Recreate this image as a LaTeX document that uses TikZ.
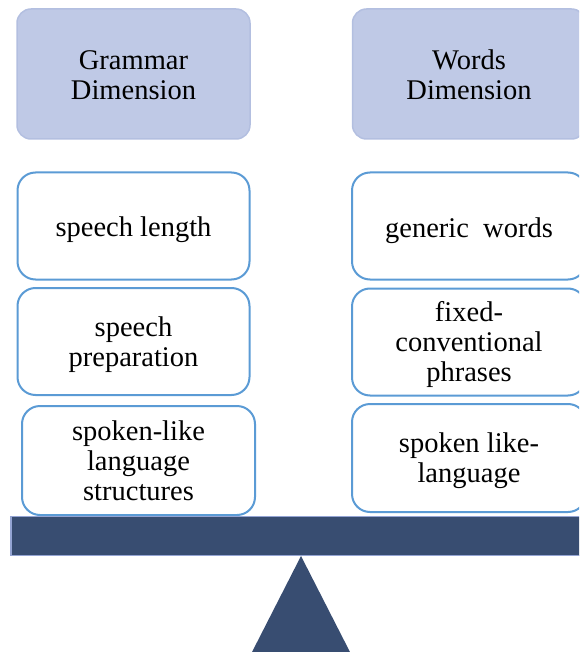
\documentclass[tikz,border=0pt]{standalone}
\usepackage{fontspec}
\usetikzlibrary{calc}
\setmainfont{Liberation Serif}
\definecolor{headfill}{HTML}{BFC9E6}
\definecolor{headline}{HTML}{B3BFE0}
\definecolor{itemline}{HTML}{5B9BD5}
\definecolor{beamfill}{HTML}{384D71}
\definecolor{beamline}{HTML}{94A4D3}
\tikzset{
  lbl/.style={align=center, font=\fontsize{28.5}{30}\selectfont, text=black, inner sep=0pt},
  headbox/.style={fill=headfill, draw=headline, line width=1.5pt, rounded corners=14pt,
    minimum width=233pt, minimum height=130pt, inner sep=0pt},
  itembox/.style={fill=white, draw=itemline, line width=2pt, rounded corners=18pt,
    minimum width=232pt, minimum height=107pt, inner sep=0pt},
}
\begin{document}
\begin{tikzpicture}[x=1pt, y=-1pt]
  \useasboundingbox (0,0) rectangle (579,652);
  \clip (0,0) rectangle (579,652);

  % column headers
  \node[headbox] (gram) at (133.5,74) {};
  \node[headbox] (words) at (469,74) {};
  \node[lbl] (gramtxt) at ($(gram)+(0,1)$) {Grammar\\Dimension};
  \node[lbl] (wordstxt) at ($(words)+(0,0.5)$) {Words\\Dimension};

  % grammar column
  \node[itembox] (g1) at (133.5,226) {};
  \node[itembox] (g2) at (133.5,341.5) {};
  \node[itembox, minimum width=233pt, minimum height=109pt] (g3) at (138.5,460.5) {};
  \node[lbl] (g1txt) at ($(g1)+(0,4)$) {speech length};
  \node[lbl] (g2txt) at ($(g2)+(0,3.5)$) {speech\\preparation};
  \node[lbl] (g3txt) at ($(g3)+(0,0.5)$) {spoken-like\\language\\structures};

  % words column
  \node[itembox, minimum width=234pt] (w1) at (469,226) {};
  \node[itembox, minimum width=234pt] (w2) at (469,342) {};
  \node[itembox, minimum width=234pt, minimum height=108pt] (w3) at (469,458) {};
  \node[lbl] (w1txt) at ($(w1)+(0,4.5)$) {generic\ \ words};
  \node[lbl] (w2txt) at ($(w2)+(0,2.5)$) {fixed-\\conventional\\phrases};
  \node[lbl] (w3txt) at ($(w3)+(0,3)$) {spoken like-\\language};

  % balance beam and pivot
  \filldraw[fill=beamfill, draw=beamline, line width=1.5pt] (11,516.5) rectangle (600,555.5);
  \fill[beamfill] (301,556) -- (350.5,653) -- (251.5,653) -- cycle;
\end{tikzpicture}
\end{document}
